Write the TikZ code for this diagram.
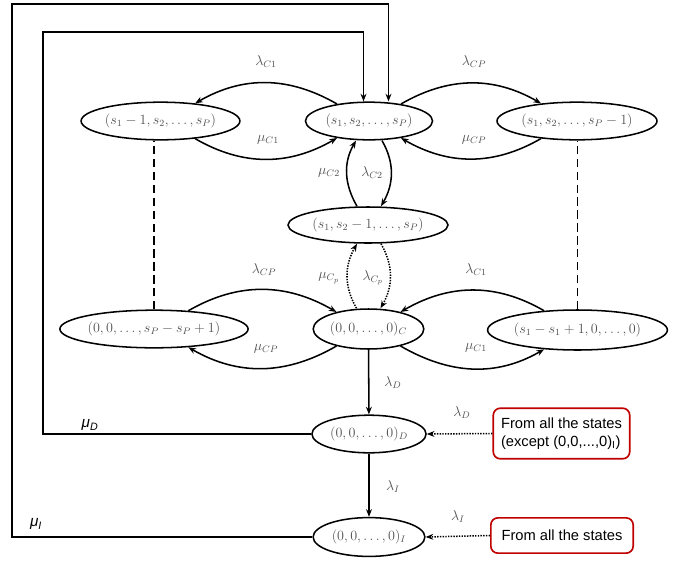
\documentclass[tikz,border=0pt]{standalone}
\usepackage{fontspec}
\newfontfamily\boxfont{Liberation Sans}
\usetikzlibrary{arrows.meta,calc,shapes.geometric}
\definecolor{lblgray}{RGB}{80,80,80}
\definecolor{boxred}{RGB}{192,0,0}
\begin{document}
\begin{tikzpicture}[x=0.85pt,y=0.85pt,
  st/.style={ellipse,draw,line width=1.3pt,inner sep=0pt,text=lblgray,minimum height=32pt,
    font=\fontsize{11.5}{14}\selectfont},
  arr/.style={line width=1.3pt,-{Stealth[length=6.5pt,width=5pt]}},
  dotarr/.style={arr,dash pattern=on 1.2pt off 1.1pt},
  dashln/.style={line width=1.3pt,dash pattern=on 7pt off 4pt},
  lbl/.style={text=lblgray,inner sep=0pt,font=\fontsize{11.5}{14}\selectfont},
  mulbl/.style={inner sep=0pt,font=\boxfont\itshape\fontsize{13}{15}\selectfont},
  rbox/.style={draw=boxred,line width=1.4pt,rounded corners=6pt,align=left,
    font=\boxfont\fontsize{12.5}{15.5}\selectfont,inner sep=3pt}]
\useasboundingbox (0,0) rectangle (683,-563);

% states
\node[st,minimum width=108pt] (M1) at (369,-121) {$(s_1,s_2,\ldots,s_P)$};
\node[st,minimum width=135pt] (L1) at (160.5,-121) {$(s_1-1,s_2,\ldots,s_P)$};
\node[st,minimum width=136pt] (R1) at (577,-121) {$(s_1,s_2,\ldots,s_P-1)$};
\node[st,minimum width=136pt,minimum height=30.6pt] (S2) at (368,-225) {$(s_1,s_2-1,\ldots,s_P)$};
\node[st,minimum width=160pt] (L3) at (154,-329) {$(0,0,\ldots,s_P-s_P+1)$};
\node[st,minimum width=94pt,minimum height=34pt] (M3) at (368.5,-329) {$(0,0,\ldots,0)_C$};
\node[st,minimum width=152pt,minimum height=34pt] (R3) at (577.5,-330) {$(s_1-s_1+1,0,\ldots,0)$};
\node[st,minimum width=97pt] (D) at (369,-434) {$(0,0,\ldots,0)_D$};
\node[st,minimum width=95pt,minimum height=33pt] (I) at (369,-537) {$(0,0,\ldots,0)_I$};

% red boxes
\node[rbox,minimum width=116pt,minimum height=43pt] (BD) at (561.5,-433.5) {From all the states\\(except (0,0,...,0)\textsubscript{I})};
\node[rbox,minimum width=121pt,minimum height=30pt] (BI) at (562,-535.5) {From all the states};

% row 1
\draw[arr] (M1.152) to[out=150,in=30] (L1.27);
\draw[arr] (L1.-27) to[out=-30,in=-150] (M1.-152);
\draw[arr] (M1.28) to[out=30,in=150] (R1.154);
\draw[arr] (R1.-154) to[out=-150,in=-30] (M1.-28);
% middle column
\draw[arr] ($(S2.north)+(-11,0)$) to[out=120,in=-120] ($(M1.south)+(-13,0)$);
\draw[arr] ($(M1.south)+(13,0)$) to[out=-60,in=60] ($(S2.north)+(13,0)$);
\draw[dotarr] ($(M3.north)+(-12,0)$) to[out=120,in=-120] ($(S2.south)+(-11,0)$);
\draw[dotarr] ($(S2.south)+(13,0)$) to[out=-60,in=60] ($(M3.north)+(12,0)$);
% row 3
\draw[arr] (L3.28) to[out=30,in=150] (M3.152);
\draw[arr] (M3.-152) to[out=-150,in=-30] (L3.-28);
\draw[arr] (R3.150) to[out=150,in=30] (M3.28);
\draw[arr] (M3.-28) to[out=-30,in=-150] (R3.-150);
% dashed
\draw[dashln] (L3.north) -- (L3.north |- L1.south);
\draw[dashln] (R3.north) -- (R3.north |- R1.south);
% vertical
\draw[arr] (M3) -- (D);
\draw[arr] (D) -- (I);
\draw[dotarr] (BD.west) -- (D.east);
\draw[dotarr] (BI.west) -- (I.east);
% frames
\coordinate (o1) at (12,-4);
\coordinate (o2) at (43,-32);
\draw[arr] (I.west) -| (o1) -| ($(M1.north)+(19.5,0)$);
\draw[arr] (D.west) -| (o2) -| ($(M1.north)+(-5.5,0)$);

% labels
\node[lbl] (t1) at (266,-62) {$\lambda_{C1}$};
\node[lbl] (t2) at (268,-140) {$\mu_{C1}$};
\node[lbl] (t3) at (474,-62) {$\lambda_{CP}$};
\node[lbl] (t4) at (474,-140) {$\mu_{CP}$};
\node[lbl] (t5) at (329,-173) {$\mu_{C2}$};
\node[lbl] (t6) at (372,-173) {$\lambda_{C2}$};
\node[lbl] (t7) at (329,-278) {$\mu_{C_p}$};
\node[lbl] (t8) at (373,-278) {$\lambda_{C_p}$};
\node[lbl] (t9) at (264,-270) {$\lambda_{CP}$};
\node[lbl] (t10) at (266,-349) {$\mu_{CP}$};
\node[lbl] (t11) at (476,-270) {$\lambda_{C1}$};
\node[lbl] (t12) at (476,-348) {$\mu_{C1}$};
\node[lbl] (t13) at (393,-383) {$\lambda_D$};
\node[lbl] (t14) at (393,-487) {$\lambda_I$};
\node[lbl] (t15) at (462,-413) {$\lambda_D$};
\node[lbl] (t16) at (458,-517) {$\lambda_I$};
\node[mulbl] (t17) at (90,-425) {μ\textsubscript{D}};
\node[mulbl] (t18) at (36,-524) {μ\textsubscript{I}};
\end{tikzpicture}
\end{document}
